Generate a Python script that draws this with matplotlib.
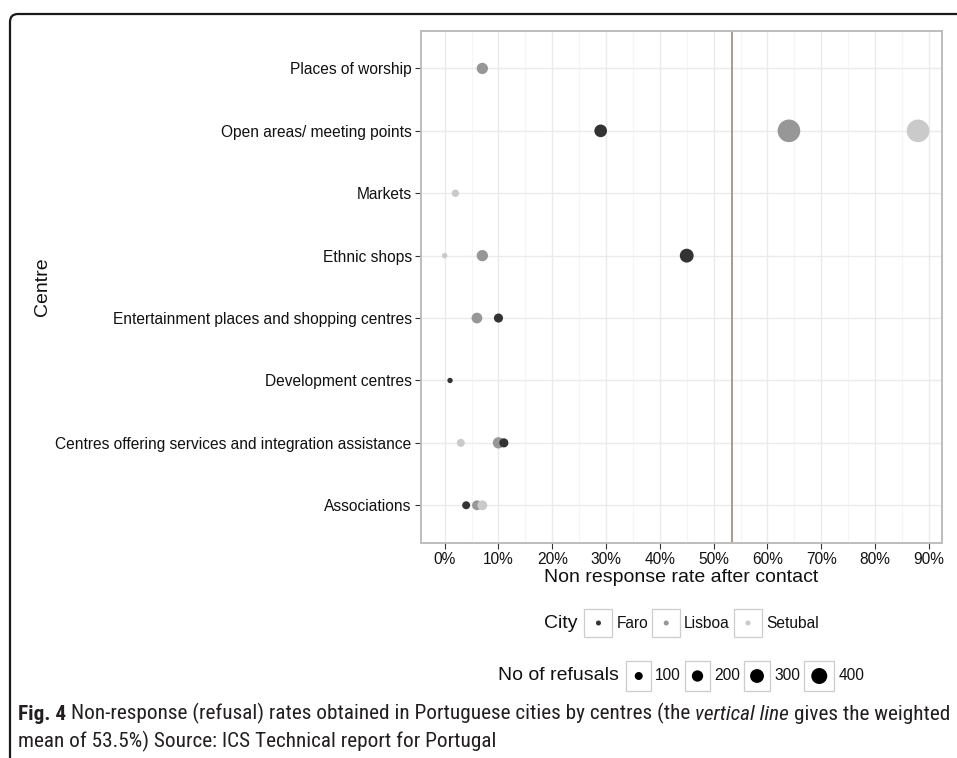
import matplotlib
matplotlib.use("Agg")
import matplotlib.pyplot as plt
import numpy as np
from matplotlib import font_manager as fm
from matplotlib.path import Path
from matplotlib.patches import PathPatch, Rectangle

# ---------------- data ----------------
centres = ["Associations",
           "Centres offering services and integration assistance",
           "Development centres",
           "Entertainment places and shopping centres",
           "Ethnic shops",
           "Markets",
           "Open areas/ meeting points",
           "Places of worship"]
cities = ["Faro", "Lisboa", "Setubal"]
nan = np.nan
faro_rate = [4, 11, 1, 10, 45, nan, 29, nan]
faro_refusals = [100, 130, 45, 130, 300, nan, 250, nan]
lisboa_rate = [6, 10, nan, 6, 7, nan, 64, 7]
lisboa_refusals = [150, 200, nan, 180, 200, nan, 800, 200]
setubal_rate = [7, 3, nan, nan, 0, 2, 88, nan]
setubal_refusals = [150, 100, nan, nan, 45, 85, 800, nan]
weighted_mean = 53.5
x_ticks = [0, 10, 20, 30, 40, 50, 60, 70, 80, 90]
x_tick_labels = [f"{t}%" for t in x_ticks]
size_breaks = [100, 200, 300, 400]

rates = {"Faro": faro_rate, "Lisboa": lisboa_rate, "Setubal": setubal_rate}
refusals = {"Faro": faro_refusals, "Lisboa": lisboa_refusals, "Setubal": setubal_refusals}
colors = {"Faro": "#333333", "Lisboa": "#979797", "Setubal": "#cacaca"}
draw_order = ["Lisboa", "Setubal", "Faro"]

W, H, DPI = 957, 758, 100
SIZE_K = 0.332  # points^2 per refusal


def dot_px(n):
    return 0.8 * np.sqrt(n)


plt.rcParams['font.family'] = ['Liberation Sans', 'DejaVu Sans']
fig = plt.figure(figsize=(W / DPI, H / DPI), dpi=DPI)
fig.patch.set_facecolor("white")

# panel in pixel coords
pl, pr, pt, pb = 421, 941.7, 31, 542.7
ax = fig.add_axes([pl / W, (H - pb) / H, (pr - pl) / W, (pb - pt) / H])

ypos = np.arange(1, len(centres) + 1)
for city in draw_order:
    r = np.array(rates[city], dtype=float)
    n = np.array(refusals[city], dtype=float)
    m = ~np.isnan(r)
    ax.scatter(r[m], ypos[m], s=SIZE_K * n[m], color=colors[city],
               edgecolors="none", zorder=3)

allr = np.concatenate([np.array(v, dtype=float) for v in rates.values()])
lo, hi = np.nanmin(allr), np.nanmax(allr)
pad = 0.05 * (hi - lo)
ax.set_xlim(lo - pad, hi + pad)
ax.set_ylim(0.4, len(centres) + 0.6)

ax.axvline(weighted_mean, color="#a39281", lw=1.3, zorder=2)

ax.set_xticks(x_ticks)
ax.set_xticklabels(x_tick_labels)
ax.set_xticks([t + 5 for t in x_ticks[:-1]], minor=True)
ax.set_yticks(ypos)
ax.set_yticklabels(centres)

ax.grid(which="major", color="#ebebeb", lw=1.0, zorder=0)
ax.grid(which="minor", axis="x", color="#f5f5f5", lw=0.8, zorder=0)
ax.set_axisbelow(True)
ax.tick_params(axis="both", which="major", length=4, width=0.8, color="#333333",
               labelsize=11.2, labelcolor="#111111")
ax.tick_params(axis="y", pad=2.7)
ax.tick_params(axis="x", pad=3)
ax.tick_params(which="minor", length=0)
for s in ax.spines.values():
    s.set_color("#bdbdbd")
    s.set_linewidth(1.4)

ax.set_xlabel("Non response rate after contact", fontsize=14, color="#111111")
ax.xaxis.label.set_va("center")
ax.xaxis.set_label_coords(0.5, (pb - 577.5) / (pb - pt))
ax.set_ylabel("Centre", fontsize=14, color="#111111")
ax.yaxis.label.set_va("center")
ax.yaxis.label.set_ha("center")
ax.yaxis.set_label_coords((42 - pl) / (pr - pl), 0.5)

# ---------------- overlay (legends, frame, caption) ----------------
ov = fig.add_axes([0, 0, 1, 1])
ov.set_xlim(0, W)
ov.set_ylim(H, 0)
ov.axis("off")
renderer = fig.canvas.get_renderer()


def text_w(t):
    return t.get_window_extent(renderer).width


# frame
verts = [(10, H + 2), (10, 22), (10, 14), (18, 14), (W + 2, 14)]
codes = [Path.MOVETO, Path.LINETO, Path.CURVE3, Path.CURVE3, Path.LINETO]
ov.add_patch(PathPatch(Path(verts, codes), fill=False, lw=1.6, ec="#1a1a1a",
                       clip_on=False))

cx = (pl + pr) / 2


def legend_row(title, labels, keys, yc, key_h, g_title=7, g_lab=4, g_key=4):
    # keys: list of (width, size_s, color)
    tt = ov.text(0, yc, title, fontsize=14, va="center", ha="left", color="#111111")
    lts = [ov.text(0, yc, lb, fontsize=11.2, va="center", ha="left", color="#111111")
           for lb in labels]
    tw = text_w(tt)
    lws = [text_w(t) for t in lts]
    total = tw + g_title + sum(k[0] + g_lab + lw for k, lw in zip(keys, lws)) \
        + g_key * (len(keys) - 1)
    x = cx - total / 2
    tt.set_x(x)
    x += tw + g_title
    for (kw, ks, kc), t, lw in zip(keys, lts, lws):
        ov.add_patch(Rectangle((x, yc - key_h / 2), kw, key_h, facecolor="white",
                               edgecolor="#cccccc", lw=0.9))
        ov.scatter([x + kw / 2], [yc], s=ks, color=kc, edgecolors="none", zorder=3)
        x += kw + g_lab
        t.set_x(x)
        x += lw + g_key


legend_row("City", cities,
           [(28, 13, colors[c]) for c in cities], 623, 28)

size_keys = [(max(25, 1.9 * dot_px(n)), SIZE_K * n, "black") for n in size_breaks]
size_h = max(28, max(k[0] for k in size_keys))
legend_row("No of refusals", [str(n) for n in size_breaks], size_keys, 676, size_h)

# caption
cap_font = None
for fam in ["Liberation Sans Narrow", "Roboto Condensed", "Open Sans Condensed",
            "Noto Sans", "Liberation Sans"]:
    try:
        fm.findfont(fm.FontProperties(family=fam), fallback_to_default=False)
        cap_font = fam
        break
    except Exception:
        continue
if cap_font is None:
    cap_font = "DejaVu Sans"

line1 = [("Fig. 4", "bold", "normal"),
         ("Non-response (refusal) rates obtained in Portuguese cities by centres (the", "normal", "normal"),
         ("vertical line", "normal", "italic"),
         ("gives the weighted", "normal", "normal")]
line2 = [("mean of 53.5%) Source: ICS Technical report for Portugal", "normal", "normal")]


def space_w(fs, weight, style):
    a = ov.text(0, 0, "x x", fontsize=fs, family=cap_font, weight=weight, style=style)
    b = ov.text(0, 0, "xx", fontsize=fs, family=cap_font, weight=weight, style=style)
    w = text_w(a) - text_w(b)
    a.remove()
    b.remove()
    return w


def draw_line(pieces, x0, y, fs):
    x = x0
    objs = []
    for i, (s, wt, st) in enumerate(pieces):
        t = ov.text(x, y, s, fontsize=fs, family=cap_font, weight=wt, style=st,
                    va="baseline", ha="left", color="#231f20")
        x += text_w(t)
        if i < len(pieces) - 1:
            x += space_w(fs, "normal", "normal")
        objs.append(t)
    return x - x0, objs


w0, objs = draw_line(line1, 18, 719.5, 12)
for o in objs:
    o.remove()
cap_fs = 12 * 932 / w0
draw_line(line1, 18, 719.5, cap_fs)
draw_line(line2, 18, 747.5, cap_fs)

fig.savefig("out.png", dpi=DPI, facecolor="white")
